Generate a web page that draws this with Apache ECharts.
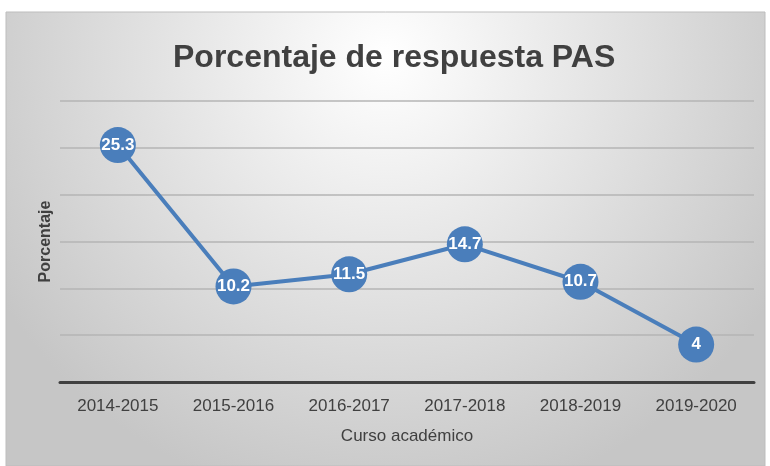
<!DOCTYPE html>
<html>
<head>
<meta charset="utf-8">
<script src="https://cdn.jsdelivr.net/npm/echarts@6/dist/echarts.min.js"></script>
<style>
  html, body { margin: 0; padding: 0; background: #fff; }
  #chart { width: 770px; height: 466px; }
</style>
</head>
<body>
<div id="chart"></div>
<script>
const cursos = ['2014-2015', '2015-2016', '2016-2017', '2017-2018', '2018-2019', '2019-2020']
const porcentaje = [25.3, 10.2, 11.5, 14.7, 10.7, 4]

const font = '"Liberation Sans", sans-serif'
const chart = echarts.init(document.getElementById('chart'))

const option = {
  animation: false,
  textStyle: { fontFamily: font },
  graphic: [{
    type: 'rect',
    z: -10,
    silent: true,
    shape: { x: 6, y: 12, width: 759, height: 454 },
    style: {
      fill: new echarts.graphic.RadialGradient(0.5, 0.1, 1.0, [
        { offset: 0, color: '#ffffff' },
        { offset: 1, color: '#c6c6c6' }
      ]),
      stroke: '#bdbdbd',
      lineWidth: 1
    }
  }],
  title: {
    text: 'Porcentaje de respuesta PAS',
    left: 168,
    top: 37,
    textStyle: {
      fontFamily: font,
      fontSize: 32,
      fontWeight: 'bold',
      color: '#404040'
    }
  },
  grid: {
    left: 60,
    right: 16,
    top: 101,
    bottom: 84
  },
  xAxis: {
    type: 'category',
    data: cursos,
    boundaryGap: true,
    name: 'Curso académico',
    nameLocation: 'middle',
    nameGap: 46,
    nameTextStyle: { fontFamily: font, fontSize: 17, color: '#404040' },
    axisLine: { lineStyle: { color: '#404040', width: 3 } },
    axisTick: { show: false },
    axisLabel: { interval: 0, margin: 16, fontFamily: font, fontSize: 17, color: '#404040' }
  },
  yAxis: {
    type: 'value',
    min: 0,
    max: 30,
    interval: 5,
    name: 'Porcentaje',
    nameLocation: 'middle',
    nameGap: 6,
    nameTextStyle: { fontFamily: font, fontSize: 16, fontWeight: 'bold', color: '#404040' },
    axisLine: { show: false },
    axisTick: { show: false },
    axisLabel: { show: false },
    splitLine: { lineStyle: { color: '#b4b4b4', width: 1.5 } }
  },
  series: [{
    type: 'line',
    data: porcentaje,
    symbol: 'circle',
    symbolSize: 36,
    lineStyle: { color: '#4a7ebb', width: 4 },
    itemStyle: { color: '#4a7ebb' },
    label: {
      show: true,
      position: 'inside',
      color: '#ffffff',
      fontFamily: font,
      fontSize: 17,
      fontWeight: 'bold'
    }
  }]
}
chart.setOption(option)
</script>
</body>
</html>
